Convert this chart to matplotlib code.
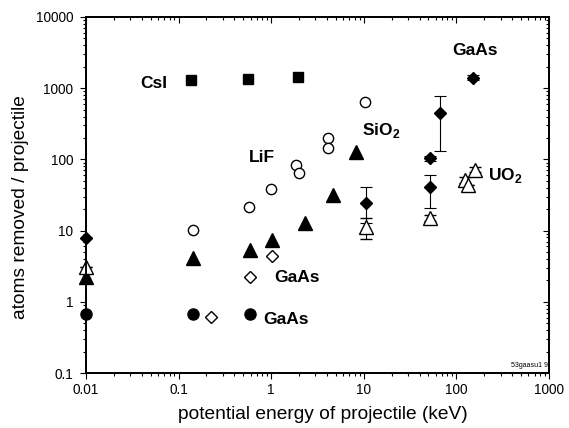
import matplotlib
matplotlib.use("Agg")
import matplotlib.pyplot as plt
import numpy as np

plt.rcParams['font.family'] = ['Liberation Sans', 'DejaVu Sans']
plt.rcParams['mathtext.fontset'] = 'custom'
plt.rcParams['mathtext.rm'] = 'Liberation Sans:bold'
plt.rcParams['mathtext.bf'] = 'Liberation Sans:bold'

# ---- data (potential energy keV, atoms removed / projectile) ----
csi_x = [0.135, 0.56, 1.96]
csi_y = [1290, 1330, 1450]

lif_sio2_x = [0.142, 0.58, 0.99, 1.85, 2.01, 4.07, 4.07, 10.3]
lif_sio2_y = [10.3, 21.2, 38, 83, 65, 200, 146, 634]

ftri_x = [0.01, 0.144, 0.59, 1.03, 2.32, 4.69, 8.18]
ftri_y = [2.2, 4.1, 5.4, 7.4, 12.6, 31.6, 128]

fdia_x = [0.01, 10.7, 51.9, 51.9, 67.3, 151]
fdia_y = [7.9, 24.7, 41.4, 104, 444, 1406]
fdia_lo = [7.9, 12.8, 21, 96, 132, 1290]
fdia_hi = [7.9, 41.4, 60.4, 112, 776, 1530]

otri_x = [0.01, 10.6, 52.4, 125, 134, 157]
otri_y = [3.1, 11.2, 15.0, 51.4, 44.1, 71.6]
otri_lo = [3.1, 7.6, 13.8, 47, 44.1, 66]
otri_hi = [3.1, 15.0, 16.3, 56, 44.1, 78]

fcir_x = [0.01, 0.144, 0.59]
fcir_y = [0.67, 0.67, 0.68]

odia_x = [0.222, 0.59, 1.03]
odia_y = [0.61, 2.2, 4.4]

labels = ["CsI", "LiF", r"SiO$_\mathbf{2}$", "GaAs", r"UO$_\mathbf{2}$", "GaAs", "GaAs"]
label_x = [0.0533, 0.80, 9.53, 90.3, 218, 1.09, 0.83]
label_y = [1172, 108, 220, 3350, 52, 2.16, 0.573]
label_va = ['center', 'center', 'baseline', 'center', 'baseline', 'center', 'center']
label_ha = ['center', 'center', 'left', 'left', 'left', 'left', 'left']

# ---- figure ----
fig = plt.figure(figsize=(5.69, 4.28), dpi=100)
ax = fig.add_axes([0.1511, 0.1285, 0.8137, 0.8318])
ax.set_xscale('log')
ax.set_yscale('log')
ax.set_xlim(0.01, 1000)
ax.set_ylim(0.1, 10000)

k = dict(clip_on=False, linestyle='none', zorder=5)
ax.plot(csi_x, csi_y, marker='s', ms=7.4, color='black', **k)
ax.plot(lif_sio2_x, lif_sio2_y, marker='o', ms=7.4, mfc='white', mec='black', mew=1.0, **k)
ax.plot(ftri_x, ftri_y, marker='^', ms=9.5, color='black', **k)
ax.plot(fcir_x, fcir_y, marker='o', ms=8, color='black', **k)
ax.plot(odia_x, odia_y, marker='D', ms=6.3, mfc='white', mec='black', mew=1.0, **k)

fy = np.array(fdia_y)
ax.errorbar(fdia_x, fdia_y, yerr=[fy - np.array(fdia_lo), np.array(fdia_hi) - fy],
            fmt='D', ms=6.5, color='black', ecolor='black', elinewidth=0.8,
            capsize=4, capthick=0.8, clip_on=False, zorder=5)
oy = np.array(otri_y)
ax.errorbar(otri_x, otri_y, yerr=[oy - np.array(otri_lo), np.array(otri_hi) - oy],
            fmt='^', ms=9.5, mfc='white', mec='black', mew=1.0, ecolor='black',
            elinewidth=0.8, capsize=4, capthick=0.8, clip_on=False, zorder=6)

for t, x, y, va, ha in zip(labels, label_x, label_y, label_va, label_ha):
    ax.text(x, y, t, fontsize=12.5, fontweight='bold', ha=ha, va=va)

ax.text(0.998, 0.021, "53gaasu1 9", transform=ax.transAxes, fontsize=5,
        ha='right', va='center')

ax.set_xticks([0.01, 0.1, 1, 10, 100, 1000])
ax.set_xticklabels(['0.01', '0.1', '1', '10', '100', '1000'])
ax.set_yticks([0.1, 1, 10, 100, 1000, 10000])
ax.set_yticklabels(['0.1', '1', '10', '100', '1000', '10000'])

ax.tick_params(which='both', direction='out', width=0.8, labelsize=9.8)
ax.tick_params(which='major', length=4.3, pad=3)
ax.tick_params(which='minor', length=2.5)
ax.tick_params(axis='y', which='major', pad=5)

for s in ax.spines.values():
    s.set_linewidth(1.1)

ax2 = ax.twiny()
ax2.set_xscale('log')
ax2.set_xlim(0.01, 1000)
ax2.tick_params(axis='x', which='both', direction='in', width=0.8, labeltop=False)
ax2.tick_params(axis='x', which='major', length=4.3)
ax2.tick_params(axis='x', which='minor', length=2.5)
ax3 = ax.twinx()
ax3.set_yscale('log')
ax3.set_ylim(0.1, 10000)
ax3.tick_params(axis='y', which='both', direction='in', width=0.8, labelright=False)
ax3.tick_params(axis='y', which='major', length=4.3)
ax3.tick_params(axis='y', which='minor', length=2.5)
for a in (ax2, ax3):
    for s in a.spines.values():
        s.set_linewidth(1.1)

ax.set_xlabel("potential energy of projectile (keV)", fontsize=13.8)
ax.set_ylabel("atoms removed / projectile", fontsize=13.8)
ax.xaxis.set_label_coords(0.511, -0.093)
ax.yaxis.set_label_coords(-0.123, 0.465)

fig.savefig("out.png", dpi=100)
